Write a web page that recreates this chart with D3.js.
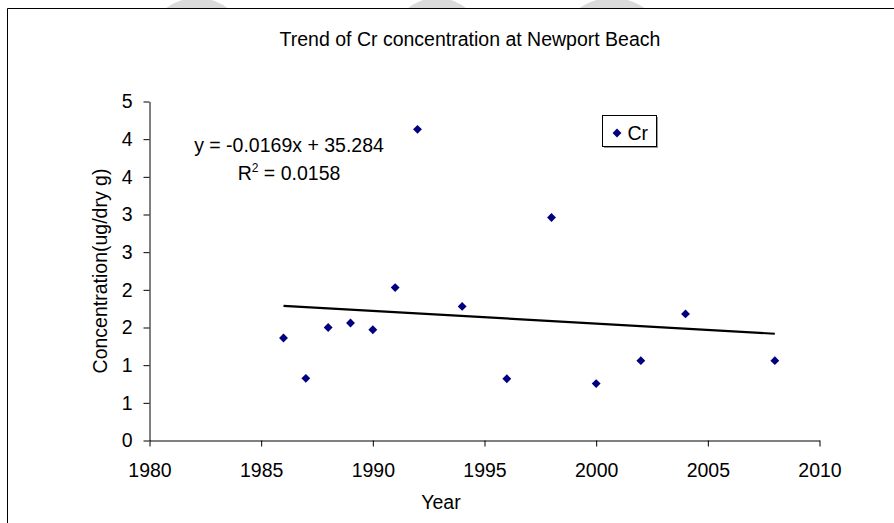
<!DOCTYPE html>
<html>
<head>
<meta charset="utf-8">
<script src="https://cdn.jsdelivr.net/npm/d3@7"></script>
<style>
  body { margin: 0; background: #fff; }
  svg { display: block; font-family: "Liberation Sans", Arial, sans-serif; }
</style>
</head>
<body>
<div id="chart"></div>
<script>
// ── Data ──────────────────────────────────────────────────────────────
var years    = [1986, 1987, 1988, 1989, 1990, 1991, 1992, 1994, 1996, 1998, 2000, 2002, 2004, 2008];
var crValues = [1.36, 0.825, 1.50, 1.56, 1.47, 2.03, 4.13, 1.78, 0.82, 2.96, 0.755, 1.06, 1.68, 1.06];

var xTicks      = [1980, 1985, 1990, 1995, 2000, 2005, 2010];
var yTicks      = [0, 0.5, 1, 1.5, 2, 2.5, 3, 3.5, 4, 4.5];
var yTickLabels = ["0", "1", "1", "2", "2", "3", "3", "4", "4", "5"];

var TITLE    = "Trend of Cr concentration at Newport Beach";
var EQ_TEXT  = "y = -0.0169x + 35.284";
var R2_VALUE = "0.0158";

(function () {
  var W = 894, H = 523;
  var FONT = 19.5;

  var svg = d3.select("#chart").append("svg")
    .attr("width", W)
    .attr("height", H);

  svg.append("rect").attr("width", W).attr("height", H).attr("fill", "#fff");

  // faint watermark blobs peeking over the top edge
  [[197, 95], [437, 90], [612, 100]].forEach(function (b) {
    svg.append("ellipse")
      .attr("cx", b[0]).attr("cy", 40)
      .attr("rx", b[1] / 2).attr("ry", 42)
      .attr("fill", "#dadada");
  });
  svg.append("rect").attr("x", 0).attr("y", 8.5).attr("width", W).attr("height", H)
    .attr("fill", "#fff");

  // chart frame
  svg.append("path")
    .attr("d", "M7.5," + (H + 2) + "V8.5H" + (W + 2))
    .attr("fill", "none")
    .attr("stroke", "#000")
    .attr("stroke-width", 1);

  // ── Scales ────────────────────────────────────────────────────────────
  var x = d3.scaleLinear().domain([1980, 2010]).range([149.5, 819.5]);
  var y = d3.scaleLinear().domain([0, 4.5]).range([440.5, 101.5]);

  // ── Axes ──────────────────────────────────────────────────────────────
  var xAxis = svg.append("g")
    .attr("transform", "translate(0," + y(0) + ")")
    .call(d3.axisBottom(x).tickValues(xTicks).tickFormat(d3.format("d"))
      .tickSizeInner(6).tickSizeOuter(0).tickPadding(17));

  var yAxis = svg.append("g")
    .attr("transform", "translate(" + x(1980) + ",0)")
    .call(d3.axisLeft(y).tickValues(yTicks)
      .tickFormat(function (d, i) { return yTickLabels[i]; })
      .tickSizeInner(6).tickSizeOuter(0).tickPadding(11));

  [xAxis, yAxis].forEach(function (a) {
    a.select(".domain").attr("stroke", "#000");
    a.selectAll(".tick line").attr("stroke", "#000");
    a.selectAll(".tick text")
      .attr("fill", "#000")
      .style("font-size", FONT + "px")
      .style("font-family", "Liberation Sans, Arial, sans-serif");
  });

  // ── Trend line (least squares on the data) ────────────────────────────
  var mx = d3.mean(years), my = d3.mean(crValues);
  var sxy = d3.sum(years, function (v, i) { return (v - mx) * (crValues[i] - my); });
  var sxx = d3.sum(years, function (v) { return (v - mx) * (v - mx); });
  var slope = sxy / sxx, icpt = my - slope * mx;
  var x0 = d3.min(years), x1 = d3.max(years);

  svg.append("line")
    .attr("x1", x(x0)).attr("y1", y(slope * x0 + icpt))
    .attr("x2", x(x1)).attr("y2", y(slope * x1 + icpt))
    .attr("stroke", "#000")
    .attr("stroke-width", 2.2);

  // ── Points ────────────────────────────────────────────────────────────
  var diamond = d3.symbol().type(d3.symbolDiamond2).size(50);

  svg.append("g").selectAll("path")
    .data(years)
    .join("path")
    .attr("d", diamond)
    .attr("transform", function (d, i) {
      return "translate(" + x(d) + "," + y(crValues[i]) + ")";
    })
    .attr("fill", "#000080");

  // ── Texts ─────────────────────────────────────────────────────────────
  svg.append("text")
    .attr("x", 470).attr("y", 46)
    .attr("text-anchor", "middle")
    .style("font-size", FONT + "px")
    .text(TITLE);

  svg.append("text")
    .attr("x", 441).attr("y", 509)
    .attr("text-anchor", "middle")
    .style("font-size", FONT + "px")
    .text("Year");

  svg.append("text")
    .attr("transform", "translate(107," + ((y(0) + y(4.5)) / 2) + ") rotate(-90)")
    .attr("text-anchor", "middle")
    .style("font-size", FONT + "px")
    .text("Concentration(ug/dry g)");

  svg.append("text")
    .attr("x", 289).attr("y", 152)
    .attr("text-anchor", "middle")
    .style("font-size", FONT + "px")
    .text(EQ_TEXT);

  var r2 = svg.append("text")
    .attr("x", 289).attr("y", 180)
    .attr("text-anchor", "middle")
    .style("font-size", FONT + "px");
  r2.append("tspan").text("R");
  r2.append("tspan").attr("dy", -8).style("font-size", "12px").text("2");
  r2.append("tspan").attr("dy", 8).text(" = " + R2_VALUE);

  // ── Legend ────────────────────────────────────────────────────────────
  var lgd = svg.append("g").attr("transform", "translate(602.5,115.5)");
  lgd.append("rect")
    .attr("x", 1.5).attr("y", 1.5)
    .attr("width", 54).attr("height", 31)
    .attr("fill", "#999");
  lgd.append("rect")
    .attr("width", 54).attr("height", 31)
    .attr("fill", "#fff")
    .attr("stroke", "#000");
  lgd.append("path")
    .attr("d", diamond)
    .attr("transform", "translate(14.5,17.5)")
    .attr("fill", "#000080");
  lgd.append("text")
    .attr("x", 25).attr("y", 24)
    .style("font-size", FONT + "px")
    .text("Cr");
})();
</script>
</body>
</html>
